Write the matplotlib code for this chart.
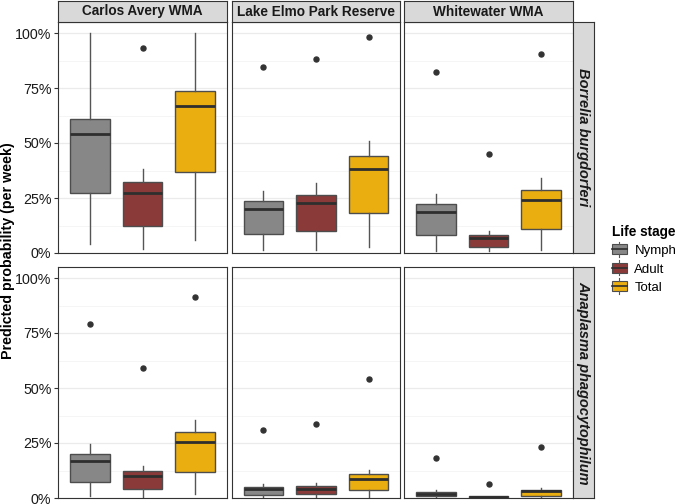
import matplotlib
matplotlib.use("Agg")
import matplotlib.pyplot as plt
from matplotlib.patches import Patch, Rectangle
from matplotlib.lines import Line2D
from matplotlib.legend_handler import HandlerBase
from matplotlib.ticker import FixedLocator, FuncFormatter

plt.rcParams["font.family"] = ["Liberation Sans", "DejaVu Sans"]

# Data: per pathogen -> per site -> [Nymph, Adult, Total]
sites = ["Carlos Avery WMA", "Lake Elmo Park Reserve", "Whitewater WMA"]
pathogens = ["Borrelia burgdorferi", "Anaplasma phagocytophilum"]
stages = ["Nymph", "Adult", "Total"]
stage_colors = ["#878787", "#8B3A3A", "#EBAE10"]

whis_low = [
    [[0.04, 0.018, 0.059], [0.014, 0.014, 0.026], [0.010, 0.010, 0.014]],
    [[0.010, 0.002, 0.016], [0.0, 0.0, 0.0], [0.0, 0.0, 0.0]],
]
q1 = [
    [[0.275, 0.125, 0.367], [0.087, 0.100, 0.181], [0.082, 0.027, 0.110]],
    [[0.075, 0.043, 0.116], [0.015, 0.018, 0.038], [0.008, 0.0, 0.011]],
]
median = [
    [[0.540, 0.274, 0.668], [0.198, 0.227, 0.380], [0.187, 0.067, 0.243]],
    [[0.170, 0.102, 0.254], [0.040, 0.041, 0.088], [0.020, 0.004, 0.032]],
]
q3 = [
    [[0.610, 0.322, 0.737], [0.236, 0.265, 0.440], [0.222, 0.080, 0.286]],
    [[0.202, 0.122, 0.300], [0.052, 0.056, 0.107], [0.029, 0.008, 0.038]],
]
whis_high = [
    [[1.000, 0.380, 1.000], [0.283, 0.316, 0.511], [0.266, 0.100, 0.341]],
    [[0.246, 0.146, 0.356], [0.062, 0.070, 0.129], [0.035, 0.010, 0.044]],
]
outliers = [
    [[[], [0.93], []], [[0.845], [0.881], [0.982]], [[0.825], [0.45], [0.904]]],
    [[[0.79], [0.59], [0.915]], [[0.31], [0.336], [0.54]], [[0.181], [0.064], [0.234]]],
]

W, H = 678, 504
fig = plt.figure(figsize=(W / 100, H / 100), dpi=100)

col_left = [58.3, 231.7, 404.3]
col_w = 168.4
row_top = [22, 267]
row_h = 231
strip = 21
edge = "#333333"


def ax_px(x, y, w, h, **kw):
    return fig.add_axes([x / W, 1 - (y + h) / H, w / W, h / H], **kw)


class BoxKey(HandlerBase):
    # little boxplot glyph like ggplot's legend key
    def create_artists(self, legend, orig, xd, yd, width, height, fontsize, trans):
        fc = orig.get_facecolor()
        rect = Rectangle((xd, yd), width, height, facecolor=fc,
                         edgecolor="#4d4d4d", linewidth=0.8, transform=trans)
        med = Line2D([xd, xd + width], [yd + height / 2] * 2, color="#2e2e2e",
                     linewidth=1.2, transform=trans)
        lo = Line2D([xd + width / 2] * 2, [yd - 2, yd], color="#555555",
                    linewidth=0.8, transform=trans)
        hi = Line2D([xd + width / 2] * 2, [yd + height, yd + height + 2],
                    color="#555555", linewidth=0.8, transform=trans)
        return [rect, med, lo, hi]


for r in range(2):
    for c in range(3):
        ax = ax_px(col_left[c], row_top[r], col_w, row_h)
        stats = []
        for s in range(3):
            stats.append({
                "whislo": whis_low[r][c][s], "q1": q1[r][c][s], "med": median[r][c][s],
                "q3": q3[r][c][s], "whishi": whis_high[r][c][s], "fliers": outliers[r][c][s],
            })
        bp = ax.bxp(stats, positions=[1, 2, 3], widths=0.75, patch_artist=True,
                    showcaps=False,
                    boxprops=dict(edgecolor="#4d4d4d", linewidth=1.0),
                    medianprops=dict(color="#2e2e2e", linewidth=2.0),
                    whiskerprops=dict(color="#555555", linewidth=1.0),
                    flierprops=dict(marker="o", markerfacecolor="#333333",
                                    markeredgecolor="#333333", markersize=3.6))
        for patch, col in zip(bp["boxes"], stage_colors):
            patch.set_facecolor(col)
        ax.set_xlim(0.4, 3.6)
        ax.set_ylim(0, 1.05)
        ax.yaxis.set_major_locator(FixedLocator([0, 0.25, 0.5, 0.75, 1.0]))
        ax.yaxis.set_minor_locator(FixedLocator([0.125, 0.375, 0.625, 0.875]))
        ax.grid(axis="y", which="major", color="#EBEBEB", linewidth=0.9, zorder=0)
        ax.grid(axis="y", which="minor", color="#F2F2F2", linewidth=0.5, zorder=0)
        ax.set_axisbelow(True)
        ax.set_xticks([])
        ax.tick_params(axis="y", which="minor", length=0)
        if c == 0:
            ax.yaxis.set_major_formatter(FuncFormatter(lambda v, p: f"{int(round(v * 100))}%"))
            ax.tick_params(axis="y", which="major", length=3, width=0.8, color=edge,
                           labelsize=10.3, labelcolor="#1a1a1a", pad=2)
        else:
            ax.tick_params(axis="y", which="major", length=0, labelleft=False)
        for sp in ax.spines.values():
            sp.set_color(edge)
            sp.set_linewidth(0.8)

        # column strips
        if r == 0:
            sax = ax_px(col_left[c], row_top[0] - strip, col_w, strip)
            sax.set_facecolor("#D9D9D9")
            sax.set_xticks([])
            sax.set_yticks([])
            for sp in sax.spines.values():
                sp.set_color(edge)
                sp.set_linewidth(0.8)
            sax.text(0.5, 0.5, sites[c], ha="center", va="center", fontsize=9.8,
                     fontweight="bold", color="#1a1a1a", transform=sax.transAxes)

    # row strips
    rax = ax_px(col_left[2] + col_w, row_top[r], strip, row_h)
    rax.set_facecolor("#D9D9D9")
    rax.set_xticks([])
    rax.set_yticks([])
    for sp in rax.spines.values():
        sp.set_color(edge)
        sp.set_linewidth(0.8)
    rax.text(0.5, 0.5, pathogens[r], ha="center", va="center", rotation=-90,
             fontsize=10.5, fontweight="bold", fontstyle="italic", color="#1a1a1a",
             transform=rax.transAxes)

fig.text(8.5 / W, 1 - 251 / H, "Predicted probability (per week)", rotation=90,
         ha="center", va="center", fontsize=10.3, fontweight="bold")

handles = [Patch(facecolor=col, label=lab) for col, lab in zip(stage_colors, stages)]
leg = fig.legend(handles=handles, title="Life stage", loc="upper left",
                 bbox_to_anchor=(612 / W, 1 - 225 / H), frameon=False, fontsize=9.5,
                 handlelength=1.1, handleheight=0.75, handletextpad=0.6, labelspacing=0.45,
                 alignment="left", borderaxespad=0, borderpad=0,
                 handler_map={Patch: BoxKey()})
leg.get_title().set_fontweight("bold")
leg.get_title().set_fontsize(9.8)

fig.savefig("out.png", dpi=100)
